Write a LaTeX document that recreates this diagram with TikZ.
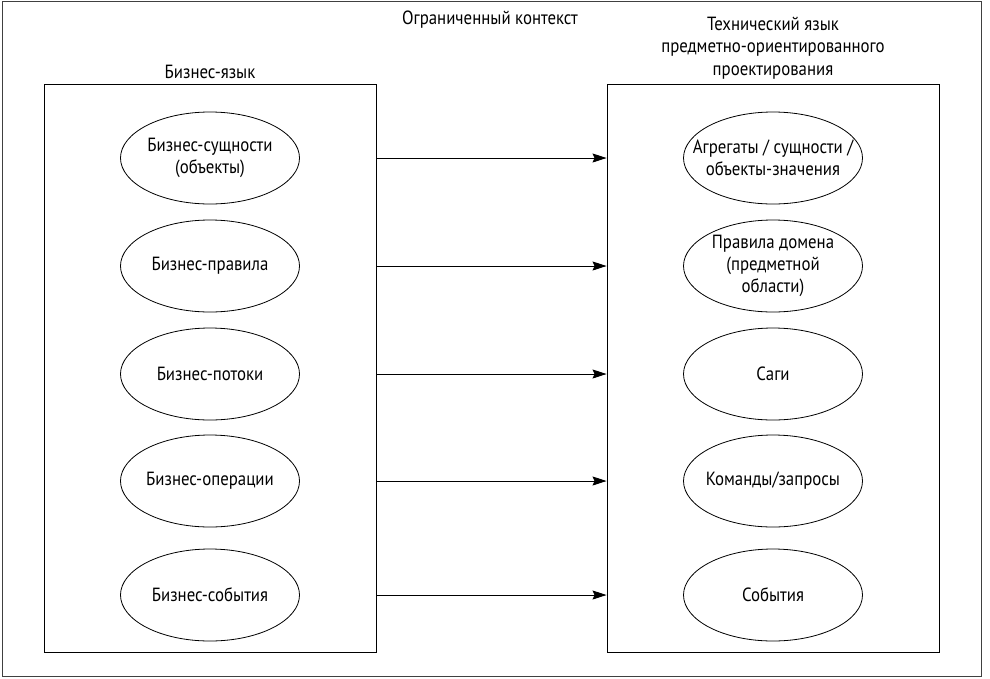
\documentclass[tikz,border=0pt]{standalone}
\usepackage{fontspec}
\setmainfont{PT Sans}[FakeStretch=0.88]
\usetikzlibrary{shapes.geometric,arrows.meta}

\tikzset{
  term/.style={draw, line width=0.8pt, ellipse, minimum width=179pt, minimum height=92pt,
    inner xsep=-40pt, inner ysep=-10pt, align=center, font=\fontsize{19.1}{22.3}\selectfont},
  langbox/.style={draw, line width=0.9pt, minimum width=332pt, minimum height=568pt, inner sep=0pt},
  caption/.style={align=center, font=\fontsize{19.1}{22.3}\selectfont},
  maps/.style={line width=0.8pt, -{Stealth[length=14pt, width=9pt, inset=2pt]}}
}

\begin{document}
\begin{tikzpicture}[x=1pt, y=-1pt]
  \useasboundingbox (0,0) rectangle (990,678);

  % Outer context frame
  \draw[line width=1.4pt, black!75] (2.5,1.5) rectangle (981.5,676.5);
  \node[caption] (ctx) at (490,20) {Ограниченный контекст};

  % Business language
  \node[langbox] (lbox) at (210,368) {};
  \node[caption, above=1pt] (ltitle) at (lbox.north) {Бизнес-язык};

  \node[term] (lent) at (210,158) {Бизнес-сущности\\(объекты)};
  \node[term] (lrule) at (210,266) {Бизнес-правила};
  \node[term] (lflow) at (210,374) {Бизнес-потоки};
  \node[term] (lop) at (210,481) {Бизнес-операции};
  \node[term] (lev) at (210,595) {Бизнес-события};

  % DDD technical language
  \node[langbox] (rbox) at (773,368) {};
  \node[caption, above=1pt] (rtitle) at (rbox.north)
    {Технический язык\\предметно-ориентированного\\проектирования};

  \node[term] (ragg) at (773,158) {Агрегаты / сущности /\\объекты-значения};
  \node[term] (rrule) at (773,266) {Правила домена\\(предметной\\области)};
  \node[term] (rsaga) at (773,374) {Саги};
  \node[term] (rcmd) at (773,481) {Команды/запросы};
  \node[term] (rev) at (773,595) {События};

  % Mappings
  \draw[maps] (lbox.east |- lent) -- (rbox.west |- lent);
  \draw[maps] (lbox.east |- lrule) -- (rbox.west |- lrule);
  \draw[maps] (lbox.east |- lflow) -- (rbox.west |- lflow);
  \draw[maps] (lbox.east |- lop) -- (rbox.west |- lop);
  \draw[maps] (lbox.east |- lev) -- (rbox.west |- lev);
\end{tikzpicture}
\end{document}
